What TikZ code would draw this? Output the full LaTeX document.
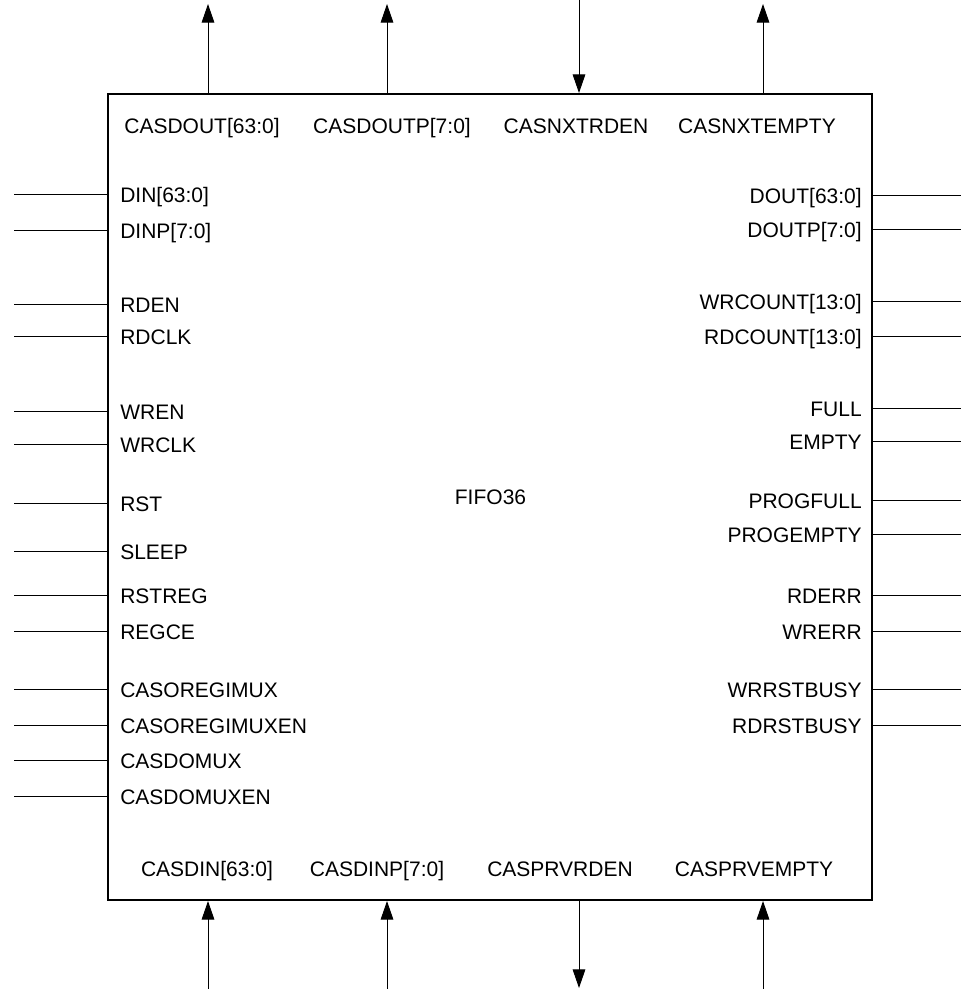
\documentclass[tikz,border=0pt]{standalone}
\usepackage{fontspec}
\setmainfont{Liberation Sans}
\usetikzlibrary{arrows.meta}
\begin{document}
\begin{tikzpicture}[x=0.75pt,y=-0.75pt,
  pin/.style={line width=0.75pt},
  arr/.style={line width=0.75pt,-{Triangle[width=9.5pt,length=14pt]}},
  lbl/.style={font=\fontsize{15.75}{18}\selectfont, inner sep=0pt},
  blk/.style={draw, line width=1.5pt, minimum width=573pt, minimum height=604.5pt, inner sep=0pt}]
\useasboundingbox (0,0) rectangle (961,989);
\node[blk] (fifo) at (490,497) {};
\node[lbl, anchor=base] (title) at (490.5,504) {FIFO36};
% left pins
\foreach \y/\t [count=\i] in {194/DIN[63:0],230/DINP[7:0],304/RDEN,336/RDCLK,411/WREN,444/WRCLK,503/RST,551/SLEEP,595/RSTREG,631/REGCE,689/CASOREGIMUX,725/CASOREGIMUXEN,760/CASDOMUX,796/CASDOMUXEN}{
  \coordinate (L\i) at (14,\y);
  \node[lbl, anchor=base west] (Lt\i) at (120,\y+8.5) {\t};
  \draw[pin] (L\i) -- (L\i -| fifo.west);
}
% right pins
\foreach \y/\t [count=\i] in {195/DOUT[63:0],229/DOUTP[7:0],301/WRCOUNT[13:0],336/RDCOUNT[13:0],408/FULL,441/EMPTY,500/PROGFULL,534/PROGEMPTY,595/RDERR,631/WRERR,689/WRRSTBUSY,725/RDRSTBUSY}{
  \coordinate (R\i) at (961,\y);
  \node[lbl, anchor=base east] (Rt\i) at (862,\y+8.5) {\t};
  \draw[pin] (fifo.east |- R\i) -- (R\i);
}
% top pins
\coordinate (T1) at (208,4);
\coordinate (T2) at (387,4);
\coordinate (T3) at (579,0);
\coordinate (T4) at (763,4);
\node[lbl, anchor=base] (Tt1) at (202,133) {CASDOUT[63:0]};
\node[lbl, anchor=base] (Tt2) at (392,133) {CASDOUTP[7:0]};
\node[lbl, anchor=base] (Tt3) at (576,133) {CASNXTRDEN};
\node[lbl, anchor=base] (Tt4) at (757,133) {CASNXTEMPTY};
\draw[arr] (T1 |- fifo.north) -- (T1);
\draw[arr] (T2 |- fifo.north) -- (T2);
\draw[arr] (T3) -- (T3 |- fifo.north);
\draw[arr] (T4 |- fifo.north) -- (T4);
% bottom pins
\coordinate (B1) at (208,989);
\coordinate (B2) at (387,989);
\coordinate (B3) at (579,988);
\coordinate (B4) at (763,989);
\node[lbl, anchor=base] (Bt1) at (207,876) {CASDIN[63:0]};
\node[lbl, anchor=base] (Bt2) at (377,876) {CASDINP[7:0]};
\node[lbl, anchor=base] (Bt3) at (560,876) {CASPRVRDEN};
\node[lbl, anchor=base] (Bt4) at (754,876) {CASPRVEMPTY};
\draw[arr] (B1) -- (B1 |- fifo.south);
\draw[arr] (B2) -- (B2 |- fifo.south);
\draw[arr] (fifo.south -| B3) -- (B3);
\draw[arr] (B4) -- (B4 |- fifo.south);
\end{tikzpicture}
\end{document}
